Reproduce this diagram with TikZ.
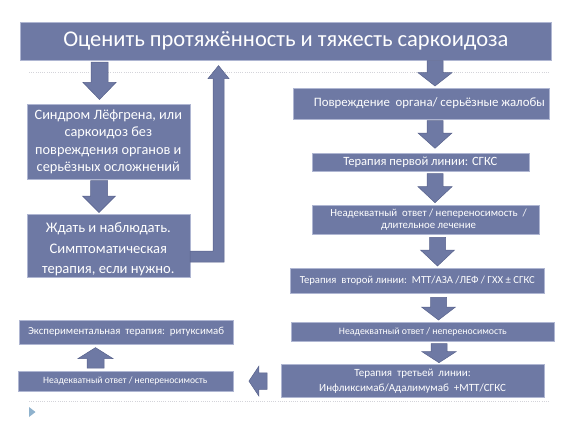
\documentclass[tikz,border=0pt]{standalone}
\usepackage{fontspec}
\setmainfont{Carlito}
\usetikzlibrary{calc}
\definecolor{boxc}{RGB}{110,121,164}
\definecolor{boxedge}{RGB}{175,182,210}
\definecolor{arredge}{RGB}{88,98,140}
\definecolor{dotc}{RGB}{212,212,218}
\definecolor{tric}{RGB}{143,178,205}
\newcommand\fs{8pt}
\newcommand\fh{17pt}
% block arrow pointing down: start, end, head length, gap at start, gap at end
\newcommand\fatdown[5]{\draw[barrow] let \p1=(#1), \p2=(#2) in
  (\x1-\fs,\y1-#4) -- (\x1+\fs,\y1-#4) -- (\x1+\fs,\y2+#5+#3) -- (\x1+\fh,\y2+#5+#3)
  -- (\x1,\y2+#5) -- (\x1-\fh,\y2+#5+#3) -- (\x1-\fs,\y2+#5+#3) -- cycle;}
\newcommand\fatup[5]{\draw[barrow] let \p1=(#1), \p2=(#2) in
  (\x1-\fs,\y1+#4) -- (\x1+\fs,\y1+#4) -- (\x1+\fs,\y2-#5-#3) -- (\x1+\fh,\y2-#5-#3)
  -- (\x1,\y2-#5) -- (\x1-\fh,\y2-#5-#3) -- (\x1-\fs,\y2-#5-#3) -- cycle;}
\newcommand\fatleft[5]{\draw[barrow] let \p1=(#1), \p2=(#2) in
  (\x1-#4,\y1+\fs) -- (\x1-#4,\y1-\fs) -- (\x2+#5+#3,\y1-\fs) -- (\x2+#5+#3,\y1-\fh)
  -- (\x2+#5,\y1) -- (\x2+#5+#3,\y1+\fh) -- (\x2+#5+#3,\y1+\fs) -- cycle;}
\begin{document}
\begin{tikzpicture}[x=1pt,y=-1pt,
  box/.style={fill=boxc, draw=boxedge, line width=0.6pt, text=white, inner sep=0pt,
    anchor=north west, align=center},
  barrow/.style={fill=boxc, draw=arredge, line width=0.5pt},
  dotline/.style={draw=dotc, line width=0.8pt, dash pattern=on 1pt off 1.2pt}]
\useasboundingbox (0,0) rectangle (577,433);
\draw[dotline] (29,72) -- (549,72);
\draw[dotline] (29,401.5) -- (549,401.5);
\fill[tric] (29,407) -- (35.5,412) -- (29,417) -- cycle;

\node[box, minimum width=531pt, minimum height=38pt, font=\fontsize{22.5}{25}\selectfont] (title) at (20,22) {Оценить протяжённость и тяжесть саркоидоза};
\node[box, minimum width=163pt, minimum height=75pt, font=\fontsize{14.3}{17.3}\selectfont] (syn) at (26.5,104) {Синдром Лёфгрена, или\\ саркоидоз без\\ повреждения органов и\\ серьёзных осложнений};
\node[box, minimum width=163pt, minimum height=63pt, font=\fontsize{14.6}{20.5}\selectfont] (wait) at (26.5,214) {\rule{0pt}{17pt}Ждать и наблюдать.\\ Симптоматическая\\ терапия, если нужно.};
\node[box, minimum width=256pt, minimum height=30.5pt, font=\fontsize{12.8}{14}\selectfont] (pov) at (293,88) {\hspace*{16pt}Повреждение\ \ органа/ серьёзные жалобы};
\node[box, minimum width=217pt, minimum height=18.5pt, font=\fontsize{12.6}{13}\selectfont] (t1) at (311.5,152.5) {Терапия первой линии: СГКС};
\node[box, minimum width=227.5pt, minimum height=29.5pt, font=\fontsize{10.8}{11.2}\selectfont] (nad1) at (311.5,204.5) {\hspace*{6pt}Неадекватный\ \ ответ / непереносимость\ \ /\\ \hspace*{6pt}длительное лечение};
\node[box, minimum width=254pt, minimum height=24.5pt, font=\fontsize{10.7}{13}\selectfont] (t2) at (290,268.3) {Терапия\ \ второй линии:\ \ МТТ/АЗА /ЛЕФ / ГХХ ± СГКС};
\node[box, minimum width=263pt, minimum height=19.5pt, font=\fontsize{9.8}{11}\selectfont] (nad2) at (291,321.5) {Неадекватный ответ / непереносимость};
\node[box, minimum width=263.5pt, minimum height=33pt, font=\fontsize{11}{15.7}\selectfont] (t3) at (280.5,364.3) {Терапия\ \ третьей\ \ линии:\\ Инфликсимаб/Адалимумаб\ \ +МТТ/СГКС};
\node[box, minimum width=215pt, minimum height=19.5pt, font=\fontsize{9.6}{11}\selectfont] (nad3) at (17.5,371) {Неадекватный ответ / непереносимость};
\node[box, minimum width=213.5pt, minimum height=23.5pt, font=\fontsize{10.8}{12}\selectfont] (exp) at (19,320) {Экспериментальная\ \ терапия:\ \ ритуксимаб};

% left column
\renewcommand\fs{8.5pt}\renewcommand\fh{16.5pt}
\fatdown{title.south -| 99.5,0}{syn.north -| 99.5,0}{17pt}{1.5pt}{4.5pt}
\fatdown{syn.south -| 99,0}{wait.north -| 99,0}{16.5pt}{1pt}{1.5pt}
% elbow connector back to the title
\coordinate (elbow) at (218.5,256.5);
\draw[barrow] let \p1=(wait.east), \p2=(elbow), \p3=(title.south) in
  (\x1,\y2+5.5pt) -- (\x2-5.5pt,\y2+5.5pt) -- (\x2-5.5pt,\y3-18pt) -- (\x2-10.5pt,\y3-18pt)
  -- (\x2,\y3-5pt) -- (\x2+10.5pt,\y3-18pt) -- (\x2+5.5pt,\y3-18pt) -- (\x2+5.5pt,\y2-5.5pt)
  -- (\x1,\y2-5.5pt) -- cycle;
% right column
\renewcommand\fs{8pt}\renewcommand\fh{17pt}
\fatdown{title.south -| 435,0}{pov.north -| 435,0}{13.3pt}{0pt}{2pt}
\fatdown{pov.south -| 435,0}{t1.north -| 435,0}{15.3pt}{1.5pt}{4.2pt}
\fatdown{t1.south -| 435,0}{nad1.north -| 435,0}{16pt}{2pt}{1.8pt}
\fatdown{nad1.south -| 437.5,0}{t2.north -| 437.5,0}{16pt}{2.7pt}{2.3pt}
\fatdown{t2.south -| 438.5,0}{nad2.north -| 438.5,0}{13pt}{4pt}{1.5pt}
\fatdown{nad2.south -| 439,0}{t3.north -| 439,0}{11pt}{2pt}{1.6pt}
% bottom
\renewcommand\fs{8.3pt}\renewcommand\fh{15pt}
\fatleft{t3.west}{nad3.east}{10pt}{13.5pt}{15.8pt}
\renewcommand\fs{8.5pt}\renewcommand\fh{17.5pt}
\fatup{nad3.north -| 95.5,0}{exp.south -| 95.5,0}{11pt}{3pt}{3.5pt}
\end{tikzpicture}
\end{document}
